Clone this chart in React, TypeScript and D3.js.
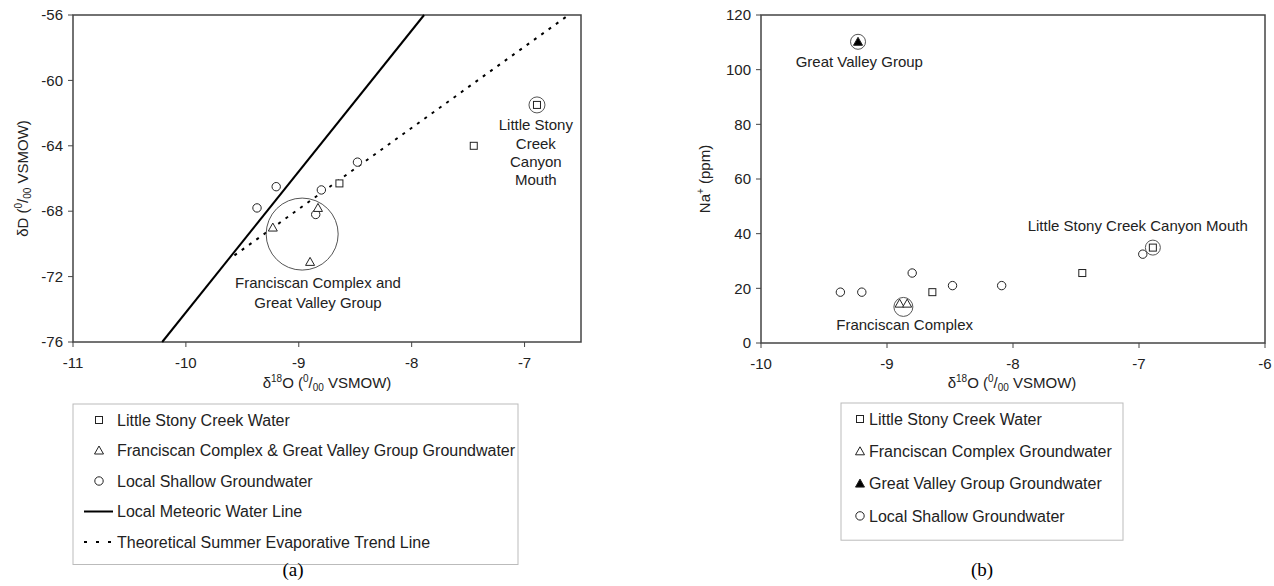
import React from 'react';
import * as d3 from 'd3';

// ---- panel (a): δD vs δ18O ----
const creekWaterA = [
  { x: -8.64, y: -66.3 },
  { x: -7.45, y: -64.0 },
  { x: -6.89, y: -61.5 },
];
const bedrockGwA = [
  { x: -8.83, y: -67.8 },
  { x: -9.23, y: -69.0 },
  { x: -8.90, y: -71.1 },
];
const shallowGwA = [
  { x: -9.37, y: -67.8 },
  { x: -9.20, y: -66.5 },
  { x: -8.80, y: -66.7 },
  { x: -8.85, y: -68.2 },
  { x: -8.48, y: -65.0 },
];
const meteoricLine = [
  { x: -10.21, y: -76 },
  { x: -7.89, y: -56 },
];
const evapLine = [
  { x: -9.57, y: -70.7 },
  { x: -6.63, y: -56.1 },
];
const xTicksA = [-11, -10, -9, -8, -7];
const yTicksA = [-56, -60, -64, -68, -72, -76];

// ---- panel (b): Na+ vs δ18O ----
const creekWaterB = [
  { x: -8.64, y: 18.6 },
  { x: -7.45, y: 25.6 },
  { x: -6.89, y: 34.9 },
];
const franciscanB = [
  { x: -8.90, y: 14.4 },
  { x: -8.84, y: 14.4 },
];
const greatValleyB = [{ x: -9.23, y: 110.2 }];
const shallowGwB = [
  { x: -9.37, y: 18.6 },
  { x: -9.20, y: 18.6 },
  { x: -8.80, y: 25.6 },
  { x: -8.48, y: 21.0 },
  { x: -8.09, y: 21.0 },
  { x: -6.97, y: 32.5 },
];
const xTicksB = [-10, -9, -8, -7, -6];
const yTicksB = [0, 20, 40, 60, 80, 100, 120];

const legendA = [
  { label: 'Little Stony Creek Water', kind: 'square' },
  { label: 'Franciscan Complex & Great Valley Group Groundwater', kind: 'triangle' },
  { label: 'Local Shallow Groundwater', kind: 'circle' },
  { label: 'Local Meteoric Water Line', kind: 'solid' },
  { label: 'Theoretical Summer Evaporative Trend Line', kind: 'dashed' },
];
const legendB = [
  { label: 'Little Stony Creek Water', kind: 'square' },
  { label: 'Franciscan Complex Groundwater', kind: 'triangle' },
  { label: 'Great Valley Group Groundwater', kind: 'filled' },
  { label: 'Local Shallow Groundwater', kind: 'circle' },
];

const FONT = '"Liberation Sans", Arial, sans-serif';
const INK = '#222';
const FRAME = '#444';

function Marker({ kind, x, y }: { kind: string; x: number; y: number }) {
  if (kind === 'square')
    return <rect x={x - 3.5} y={y - 3.5} width={7} height={7} fill="white" stroke={INK} strokeWidth={1} />;
  if (kind === 'circle')
    return <circle cx={x} cy={y} r={4.2} fill="white" stroke={INK} strokeWidth={1} />;
  if (kind === 'triangle' || kind === 'filled')
    return (
      <path
        d={`M${x},${y - 4.5}L${x + 4.5},${y + 3.5}L${x - 4.5},${y + 3.5}Z`}
        fill={kind === 'filled' ? '#000' : 'white'}
        stroke={INK}
        strokeWidth={1}
      />
    );
  if (kind === 'solid')
    return <line x1={x - 15} x2={x + 14} y1={y} y2={y} stroke="#000" strokeWidth={2} />;
  return <line x1={x - 15} x2={x + 14} y1={y} y2={y} stroke="#000" strokeWidth={2} strokeDasharray="3,9" />;
}

function DeltaLabel({ x, y }: { x: number; y: number }) {
  return (
    <text x={x} y={y} textAnchor="middle" fontSize={15} fill={INK} fontFamily={FONT}>
      <tspan>δ</tspan>
      <tspan fontSize={10} dy={-6}>18</tspan>
      <tspan dy={6}>O (</tspan>
      <tspan fontSize={10} dy={-6}>0</tspan>
      <tspan dy={6}>/</tspan>
      <tspan fontSize={10} dy={3}>00</tspan>
      <tspan dy={-3}> VSMOW)</tspan>
    </text>
  );
}

function Axes({ x, y, xTicks, yTicks }: any) {
  const [x0, x1] = x.range();
  const [y0, y1] = y.range();
  return (
    <g fontFamily={FONT} fontSize={15} fill={INK}>
      <rect x={x0} y={y1} width={x1 - x0} height={y0 - y1} fill="none" stroke={FRAME} strokeWidth={1.5} />
      {yTicks.map((t: number) => (
        <g key={'y' + t}>
          <line x1={x0 - 5} x2={x0} y1={y(t)} y2={y(t)} stroke={FRAME} strokeWidth={1} />
          <text x={x0 - 10} y={y(t)} dy="0.35em" textAnchor="end">{t}</text>
        </g>
      ))}
      {xTicks.map((t: number) => (
        <g key={'x' + t}>
          <line x1={x(t)} x2={x(t)} y1={y0} y2={y0 + 5} stroke={FRAME} strokeWidth={1} />
          <text x={x(t)} y={y0 + 21} dy="0.35em" textAnchor="middle">{t}</text>
        </g>
      ))}
    </g>
  );
}

function Legend({ items, left, top, width, rowH, markerX, textX }: any) {
  return (
    <g fontFamily={FONT} fontSize={16} fill={INK}>
      <rect x={left} y={top} width={width} height={rowH * items.length + 8} fill="white" stroke="#bbb" strokeWidth={1} />
      {items.map((it: any, i: number) => {
        const cy = top + 16 + i * rowH;
        return (
          <g key={it.label}>
            <Marker kind={it.kind} x={markerX} y={cy} />
            <text x={textX} y={cy} dy="0.35em">{it.label}</text>
          </g>
        );
      })}
    </g>
  );
}

function Lines({ text, x, y, lh, size = 15 }: any) {
  return (
    <text x={x} y={y} textAnchor="middle" fontFamily={FONT} fontSize={size} fill={INK}>
      {text.map((s: string, i: number) => (
        <tspan key={i} x={x} dy={i === 0 ? '0.35em' : lh}>{s}</tspan>
      ))}
    </text>
  );
}

export default function App() {
  // panel (a) scales
  const xa = d3.scaleLinear().domain([-11, -6.5]).range([73, 581]);
  const ya = d3.scaleLinear().domain([-76, -56]).range([342, 15]);
  // panel (b) scales
  const xb = d3.scaleLinear().domain([-10, -6]).range([761, 1265]);
  const yb = d3.scaleLinear().domain([0, 120]).range([343, 15]);

  const lineA = d3.line<{ x: number; y: number }>().x((d) => xa(d.x)).y((d) => ya(d.y));

  return (
    <svg
      width={1274}
      height={586}
      style={{ position: 'absolute', left: 0, top: 0, background: 'white' }}
    >
      {/* ---------- (a) ---------- */}
      <Axes x={xa} y={ya} xTicks={xTicksA} yTicks={yTicksA} />
      <path d={lineA(meteoricLine) || ''} stroke="#000" strokeWidth={2} fill="none" />
      <path d={lineA(evapLine) || ''} stroke="#000" strokeWidth={2} strokeDasharray="3,6" fill="none" />
      {shallowGwA.map((d, i) => <Marker key={'ca' + i} kind="circle" x={xa(d.x)} y={ya(d.y)} />)}
      {creekWaterA.map((d, i) => <Marker key={'sa' + i} kind="square" x={xa(d.x)} y={ya(d.y)} />)}
      {bedrockGwA.map((d, i) => <Marker key={'ta' + i} kind="triangle" x={xa(d.x)} y={ya(d.y)} />)}
      <circle cx={xa(-8.97)} cy={ya(-69.4)} r={36} fill="none" stroke="#555" strokeWidth={1} />
      <circle cx={xa(creekWaterA[2].x)} cy={ya(creekWaterA[2].y)} r={8} fill="none" stroke="#555" strokeWidth={1} />
      <Lines text={['Little Stony', 'Creek', 'Canyon', 'Mouth']} x={xa(-6.9)} y={125} lh={18.4} />
      <Lines text={['Franciscan Complex and', 'Great Valley Group']} x={xa(-8.83)} y={283} lh={19.5} />
      <DeltaLabel x={327} y={388} />
      <text
        transform={`translate(28,${(ya.range()[0] + ya.range()[1]) / 2}) rotate(-90)`}
        textAnchor="middle"
        fontFamily={FONT}
        fontSize={15}
        fill={INK}
      >
        <tspan>δD (</tspan>
        <tspan fontSize={10} dy={-6}>0</tspan>
        <tspan dy={6}>/</tspan>
        <tspan fontSize={10} dy={3}>00</tspan>
        <tspan dy={-3}> VSMOW)</tspan>
      </text>
      <Legend items={legendA} left={73} top={404} width={445} rowH={30.5} markerX={99} textX={117} />
      <text x={293} y={576} textAnchor="middle" fontFamily='"Liberation Serif", serif' fontSize={19} fill="#000">(a)</text>

      {/* ---------- (b) ---------- */}
      <Axes x={xb} y={yb} xTicks={xTicksB} yTicks={yTicksB} />
      {shallowGwB.map((d, i) => <Marker key={'cb' + i} kind="circle" x={xb(d.x)} y={yb(d.y)} />)}
      {creekWaterB.map((d, i) => <Marker key={'sb' + i} kind="square" x={xb(d.x)} y={yb(d.y)} />)}
      {franciscanB.map((d, i) => <Marker key={'tb' + i} kind="triangle" x={xb(d.x)} y={yb(d.y)} />)}
      {greatValleyB.map((d, i) => <Marker key={'gb' + i} kind="filled" x={xb(d.x)} y={yb(d.y)} />)}
      <circle cx={xb(greatValleyB[0].x)} cy={yb(greatValleyB[0].y)} r={7.5} fill="none" stroke="#555" strokeWidth={1} />
      <circle cx={xb(-8.87)} cy={yb(13.2)} r={9.5} fill="none" stroke="#555" strokeWidth={1} />
      <circle cx={xb(creekWaterB[2].x)} cy={yb(creekWaterB[2].y)} r={7.5} fill="none" stroke="#555" strokeWidth={1} />
      <Lines text={['Great Valley Group']} x={xb(-9.22)} y={62} lh={0} />
      <Lines text={['Franciscan Complex']} x={xb(-8.86)} y={325} lh={0} />
      <Lines text={['Little Stony Creek Canyon Mouth']} x={xb(-7.01)} y={226} lh={0} />
      <DeltaLabel x={1012} y={388} />
      <text
        transform={`translate(710,${(yb.range()[0] + yb.range()[1]) / 2}) rotate(-90)`}
        textAnchor="middle"
        fontFamily={FONT}
        fontSize={15}
        fill={INK}
      >
        <tspan>Na</tspan>
        <tspan fontSize={10} dy={-6}>+</tspan>
        <tspan dy={6}> (ppm)</tspan>
      </text>
      <Legend items={legendB} left={841} top={403} width={282} rowH={32.3} markerX={860} textX={869} />
      <text x={982} y={576} textAnchor="middle" fontFamily='"Liberation Serif", serif' fontSize={19} fill="#000">(b)</text>
    </svg>
  );
}
